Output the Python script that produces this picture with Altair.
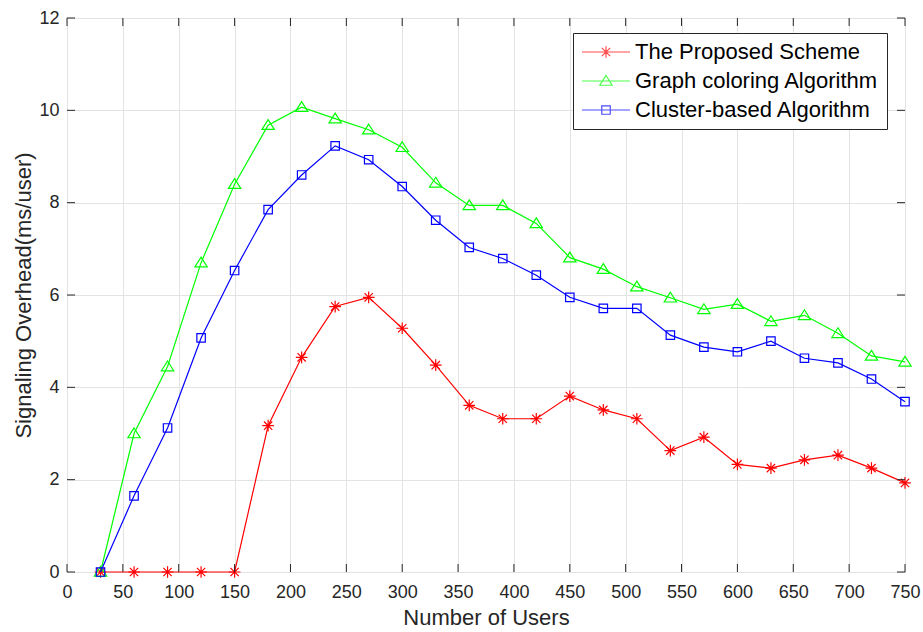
import altair as alt
import pandas as pd

users = [30, 60, 90, 120, 150, 180, 210, 240, 270, 300, 330, 360, 390,
         420, 450, 480, 510, 540, 570, 600, 630, 660, 690, 720, 750]
proposed = [0, 0, 0, 0, 0, 3.17, 4.65, 5.75, 5.95, 5.28, 4.48, 3.61, 3.32,
            3.32, 3.81, 3.51, 3.32, 2.63, 2.92, 2.33, 2.25, 2.43, 2.53, 2.25, 1.93]
graph = [0, 3.0, 4.45, 6.7, 8.4, 9.68, 10.07, 9.82, 9.58, 9.2, 8.43, 7.94, 7.94,
         7.55, 6.81, 6.56, 6.18, 5.94, 5.69, 5.8, 5.43, 5.56, 5.17, 4.68, 4.55]
cluster = [0, 1.65, 3.12, 5.07, 6.53, 7.85, 8.6, 9.23, 8.93, 8.35, 7.62, 7.03, 6.79,
           6.43, 5.95, 5.71, 5.71, 5.13, 4.87, 4.77, 5.0, 4.63, 4.53, 4.18, 3.69]

names = ["The Proposed Scheme", "Graph coloring Algorithm", "Cluster-based Algorithm"]
colors = ["#ff0000", "#00ff00", "#0000ff"]
x_ticks = list(range(0, 751, 50))
y_ticks = list(range(0, 13, 2))

# marker shapes (unit paths)
asterisk = "M-0.9,0L0.9,0M0,-0.9L0,0.9M-0.64,-0.64L0.64,0.64M-0.64,0.64L0.64,-0.64"
triangle = "M0,-0.85L0.95,0.65L-0.95,0.65Z"
square = "M-0.65,-0.65L0.65,-0.65L0.65,0.65L-0.65,0.65Z"
shapes = [asterisk, triangle, square]
legend_shapes = [s + "M-3.7,0L3.7,0" for s in shapes]

series_values = [proposed, graph, cluster]
rows = []
for name, vals in zip(names, series_values):
    for u, v in zip(users, vals):
        rows.append({"users": u, "value": v, "series": name})
df = pd.DataFrame(rows)

W, H = 838, 554
FONT = "Liberation Sans"
DARK = "#262626"
MSIZE = 169

xs = alt.Scale(domain=[0, 750], nice=False, zero=False)
ys = alt.Scale(domain=[0, 12], nice=False)

x_axis = alt.Axis(title="Number of Users", values=x_ticks, format="d",
                  grid=True, gridColor="#e3e3e3", domain=False, ticks=False,
                  labelFontSize=18, labelFont=FONT, labelColor=DARK, labelPadding=11,
                  titleFontSize=22, titleFont=FONT, titleColor=DARK, titleFontWeight="normal",
                  titlePadding=6, labelFlush=False)
y_axis = alt.Axis(title="Signaling Overhead(ms/user)", values=y_ticks, format="d",
                  grid=True, gridColor="#e3e3e3", domain=False, ticks=False,
                  labelFontSize=18, labelFont=FONT, labelColor=DARK, labelPadding=8,
                  titleFontSize=22, titleFont=FONT, titleColor=DARK, titleFontWeight="normal",
                  titlePadding=3, labelFlush=False)


def X(field):
    return alt.X(field, scale=xs, axis=x_axis)


def Y(field):
    return alt.Y(field, scale=ys, axis=y_axis)


layers = []
for name, col, shp in zip(names, colors, shapes):
    sub = alt.Chart(df).transform_filter(alt.datum.series == name)
    line = sub.mark_line(color=col, strokeWidth=1.2).encode(x=X("users:Q"), y=Y("value:Q"))
    pts = sub.mark_point(shape=shp, color=col, filled=False, size=MSIZE,
                         strokeWidth=1.2, opacity=1).encode(x=X("users:Q"), y=Y("value:Q"))
    layers += [line, pts]

# inner ticks (MATLAB style)
tx = pd.DataFrame({"users": x_ticks})
ty = pd.DataFrame({"value": y_ticks})
tick_style = dict(color=DARK, strokeWidth=1)
bx = alt.Chart(tx).mark_rule(**tick_style).encode(
    x=X("users:Q"), y=alt.value(H), y2=alt.value(H - 8))
tx_top = alt.Chart(tx).mark_rule(**tick_style).encode(
    x=X("users:Q"), y=alt.value(0), y2=alt.value(8))
ly = alt.Chart(ty).mark_rule(**tick_style).encode(
    y=Y("value:Q"), x=alt.value(0), x2=alt.value(8))
ry = alt.Chart(ty).mark_rule(**tick_style).encode(
    y=Y("value:Q"), x=alt.value(W), x2=alt.value(W - 8))

leg = alt.Legend(title=None, orient="none", legendX=506, legendY=15,
                 fillColor="white", strokeColor=DARK, padding=8,
                 labelFont=FONT, labelFontSize=22, labelColor="black", labelLimit=500,
                 symbolSize=MSIZE, symbolStrokeWidth=1.2, symbolOffset=14,
                 labelOffset=18, rowPadding=7)
legend_layer = alt.Chart(df).transform_filter("datum.users < 0").mark_point(
    filled=False, strokeWidth=1.2).encode(
    x=X("users:Q"), y=Y("value:Q"),
    color=alt.Color("series:N", scale=alt.Scale(domain=names, range=colors), legend=leg),
    shape=alt.Shape("series:N", scale=alt.Scale(domain=names, range=legend_shapes), legend=leg),
)

chart = alt.layer(*layers, bx, tx_top, ly, ry, legend_layer).properties(
    width=W, height=H,
    padding={"left": 67, "top": 18, "right": 18, "bottom": 60},
    autosize=alt.AutoSizeParams(type="none"),
).configure_view(stroke=DARK, strokeWidth=1).configure(background="white")

chart.save("out.html", embed_options={"renderer": "svg", "actions": False})
